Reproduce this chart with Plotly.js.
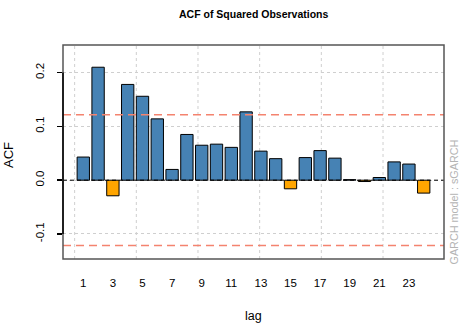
<!DOCTYPE html>
<html>
<head>
<meta charset="utf-8">
<script src="https://cdn.plot.ly/plotly-3.0.1.min.js"></script>
<style>
  body { margin: 0; padding: 0; background: #fff; }
  #acf-plot { width: 464px; height: 325px; }
</style>
</head>
<body>
<div id="acf-plot"></div>
<script>
// values
var lags = [1, 2, 3, 4, 5, 6, 7, 8, 9, 10, 11, 12, 13, 14, 15, 16, 17, 18, 19, 20, 21, 22, 23, 24];
var acfValues = [0.043, 0.210, -0.029, 0.178, 0.156, 0.114, 0.020, 0.085, 0.065, 0.067, 0.061, 0.127,
                 0.054, 0.040, -0.016, 0.042, 0.055, 0.041, 0.001, -0.0025, 0.005, 0.034, 0.030, -0.024];
var lagTicks = [1, 3, 5, 7, 9, 11, 13, 15, 17, 19, 21, 23];
var lagTickLabels = ["1", "3", "5", "7", "9", "11", "13", "15", "17", "19", "21", "23"];
var acfTicks = [-0.1, 0.0, 0.1, 0.2];
var acfTickLabels = ["-0.1", "0.0", "0.1", "0.2"];
var confLimit = 0.1215;
var modelName = "GARCH model : sGARCH";

var font = "Liberation Sans, Arial, Helvetica, sans-serif";
var barColors = acfValues.map(v => v >= 0 ? "#4682b4" : "#ffa500");

var trace = {
  x: lags,
  y: acfValues,
  type: "bar",
  width: 1 / 1.2,
  marker: { color: barColors, line: { color: "#000", width: 1 } },
  hoverinfo: "x+y"
};

// R barplot grid sits at pretty() positions of the bar coordinates (0,5,...,25)
var gridX = [0, 5, 10, 15, 20, 25].map(u => (u - 0.7) / 1.2 + 1);
var shapes = gridX.map(x => ({
  type: "line", xref: "x", yref: "paper", x0: x, x1: x, y0: 0, y1: 1,
  line: { color: "#cfcfcf", width: 1, dash: "3px,3px" }, layer: "below"
}));

shapes.push(
  { type: "line", xref: "paper", yref: "y", x0: 0, x1: 1, y0: confLimit, y1: confLimit,
    line: { color: "#f4836f", width: 1.5, dash: "8px,5px" } },
  { type: "line", xref: "paper", yref: "y", x0: 0, x1: 1, y0: -confLimit, y1: -confLimit,
    line: { color: "#f4836f", width: 1.5, dash: "8px,5px" } },
  { type: "line", xref: "paper", yref: "y", x0: 0, x1: 1, y0: 0, y1: 0,
    line: { color: "#000", width: 1, dash: "4px,3px" } },
  { type: "rect", xref: "paper", yref: "paper", x0: 0, x1: 1, y0: 0, y1: 1,
    line: { color: "#555", width: 1.5 } },
  { type: "line", xref: "paper", yref: "y", x0: 0, x1: 0, y0: -0.1, y1: 0.2,
    line: { color: "#000", width: 1.5 } }
);

var layout = {
  width: 464,
  height: 325,
  margin: { l: 63, r: 20, t: 45, b: 66 },
  paper_bgcolor: "#fff",
  plot_bgcolor: "#fff",
  showlegend: false,
  font: { family: font, color: "#000", size: 11.5 },
  xaxis: {
    range: [-0.37, 25.37],
    tickmode: "array",
    tickvals: lagTicks,
    ticktext: lagTickLabels,
    ticks: "",
    ticklabelstandoff: 15,
    showgrid: false,
    zeroline: false,
    showline: false
  },
  yaxis: {
    range: [-0.1465, 0.2513],
    tickmode: "array",
    tickvals: acfTicks,
    ticktext: acfTickLabels,
    tickangle: -90,
    ticks: "outside",
    ticklen: 5,
    tickwidth: 1.5,
    tickcolor: "#000",
    ticklabelstandoff: 8,
    showgrid: true,
    gridcolor: "#cfcfcf",
    griddash: "dot",
    zeroline: false,
    showline: false
  },
  shapes: shapes,
  annotations: [
    { text: "<b>ACF of Squared Observations</b>", xref: "paper", yref: "paper", x: 0.5, y: 1,
      xanchor: "center", yanchor: "middle", yshift: 31, showarrow: false,
      font: { size: 10.5, family: font } },
    { text: "lag", xref: "paper", yref: "paper", x: 0.5, y: 0, xanchor: "center", yanchor: "middle",
      yshift: -57, showarrow: false, font: { size: 12.5, family: font } },
    { text: "ACF", xref: "paper", yref: "paper", x: 0, y: 0.5, xanchor: "center", yanchor: "middle",
      xshift: -55, yshift: -3, textangle: -90, showarrow: false, font: { size: 13, family: font } },
    { text: modelName, xref: "paper", yref: "paper", x: 1, y: 0, xshift: 9, yshift: -8,
      xanchor: "center", yanchor: "bottom", textangle: -90, showarrow: false,
      font: { size: 10.8, family: font, color: "#b4b4b4" } }
  ]
};

Plotly.newPlot("acf-plot", [trace], layout, { displayModeBar: false, staticPlot: true });
</script>
</body>
</html>
